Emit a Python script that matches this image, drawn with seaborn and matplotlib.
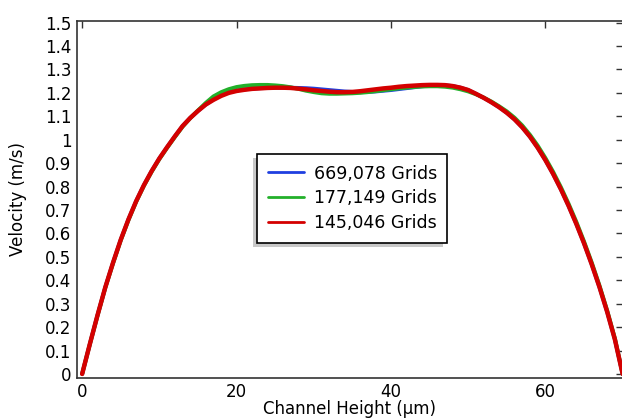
import pandas as pd
import matplotlib
matplotlib.use("Agg")
import matplotlib.pyplot as plt
import seaborn as sns
from matplotlib.patches import Rectangle
from matplotlib.transforms import IdentityTransform

# channel height (um), 0..70
height = list(range(71))

vel_669 = [0, 0.128, 0.252, 0.370, 0.475, 0.573, 0.660, 0.738, 0.806, 0.866,
           0.920, 0.968, 1.014, 1.058, 1.093, 1.123, 1.150, 1.172, 1.190, 1.202,
           1.210, 1.215, 1.218, 1.220, 1.221, 1.222, 1.222, 1.222, 1.221, 1.220,
           1.218, 1.215, 1.212, 1.209, 1.206, 1.204, 1.203, 1.204, 1.206, 1.209,
           1.212, 1.216, 1.220, 1.224, 1.228, 1.231, 1.232, 1.232, 1.229, 1.222,
           1.212, 1.196, 1.179, 1.160, 1.139, 1.115, 1.087, 1.053, 1.013, 0.966,
           0.913, 0.854, 0.789, 0.718, 0.641, 0.558, 0.468, 0.371, 0.265, 0.147, 0]
vel_177 = [0, 0.127, 0.250, 0.368, 0.472, 0.570, 0.657, 0.735, 0.803, 0.863,
           0.917, 0.965, 1.011, 1.055, 1.092, 1.125, 1.157, 1.185, 1.203, 1.216,
           1.225, 1.230, 1.233, 1.234, 1.234, 1.232, 1.229, 1.224, 1.217, 1.209,
           1.203, 1.198, 1.196, 1.196, 1.197, 1.198, 1.200, 1.203, 1.207, 1.211,
           1.215, 1.219, 1.222, 1.225, 1.227, 1.228, 1.228, 1.226, 1.222, 1.215,
           1.206, 1.194, 1.180, 1.163, 1.143, 1.121, 1.094, 1.061, 1.021, 0.975,
           0.922, 0.863, 0.798, 0.727, 0.650, 0.566, 0.476, 0.378, 0.271, 0.152, 0]
vel_145 = [0, 0.128, 0.252, 0.370, 0.475, 0.573, 0.660, 0.738, 0.806, 0.866,
           0.920, 0.968, 1.014, 1.058, 1.093, 1.123, 1.150, 1.170, 1.187, 1.200,
           1.208, 1.213, 1.217, 1.219, 1.221, 1.222, 1.222, 1.221, 1.218, 1.215,
           1.211, 1.208, 1.205, 1.203, 1.203, 1.204, 1.207, 1.211, 1.215, 1.219,
           1.222, 1.226, 1.229, 1.231, 1.233, 1.234, 1.234, 1.233, 1.229, 1.222,
           1.212, 1.196, 1.179, 1.160, 1.139, 1.115, 1.087, 1.053, 1.013, 0.966,
           0.913, 0.854, 0.789, 0.718, 0.641, 0.558, 0.468, 0.371, 0.265, 0.147, 0]

labels = ["669,078 Grids", "177,149 Grids", "145,046 Grids"]
colors = ["#1f3fe0", "#22b02a", "#d40000"]

df = pd.concat([
    pd.DataFrame({"h": height, "v": vel_669, "mesh": labels[0]}),
    pd.DataFrame({"h": height, "v": vel_177, "mesh": labels[1]}),
    pd.DataFrame({"h": height, "v": vel_145, "mesh": labels[2]}),
])

sns.set_theme(style="white")
plt.rcParams["font.family"] = ["DejaVu Sans"]
plt.rcParams["axes.edgecolor"] = "#333333"
plt.rcParams["text.color"] = "black"
plt.rcParams["axes.labelcolor"] = "black"
plt.rcParams["lines.solid_joinstyle"] = "round"

fig = plt.figure(figsize=(6.22, 4.19), dpi=100)
ax = fig.add_axes([0.124, 0.098, 0.877, 0.852])

sns.lineplot(data=df, x="h", y="v", hue="mesh", palette=colors, sort=False,
             estimator=None, linewidth=2.8, ax=ax)
ax.lines[2].set_linewidth(3.2)

ax.set_xlim(-0.65, 70)
ax.set_ylim(-0.017, 1.507)
ax.set_xticks([0, 20, 40, 60])
yt = [i / 10 for i in range(16)]
ax.set_yticks(yt)
ax.set_yticklabels(["0" if t == 0 else ("1" if t == 1 else f"{t:g}") for t in yt])
ax.tick_params(direction="in", top=True, right=True, length=5, width=1,
               labelsize=12, colors="#333333", labelcolor="black", pad=4)
for s in ax.spines.values():
    s.set_linewidth(1.2)

ax.set_xlabel("Channel Height (µm)", fontsize=12, labelpad=-1)
ax.set_ylabel("Velocity (m/s)", fontsize=12, labelpad=13)

leg = ax.legend(loc="upper left", bbox_to_anchor=(0.33, 0.627), borderaxespad=0,
                fontsize=12.5, frameon=True, fancybox=False, edgecolor="black",
                framealpha=1, handlelength=2.1, handletextpad=0.55,
                labelspacing=0.4, borderpad=0.6)
leg.get_frame().set_linewidth(1.2)
for h in leg.get_lines():
    h.set_linewidth(2)

fig.canvas.draw()
bb = leg.get_window_extent()
shadow = Rectangle((bb.x0 - 4, bb.y0 - 4), bb.width, bb.height,
                   transform=IdentityTransform(), facecolor="#c8c8c8",
                   edgecolor="none", zorder=4, clip_on=False)
ax.add_artist(shadow)

fig.savefig("out.png", dpi=100)
